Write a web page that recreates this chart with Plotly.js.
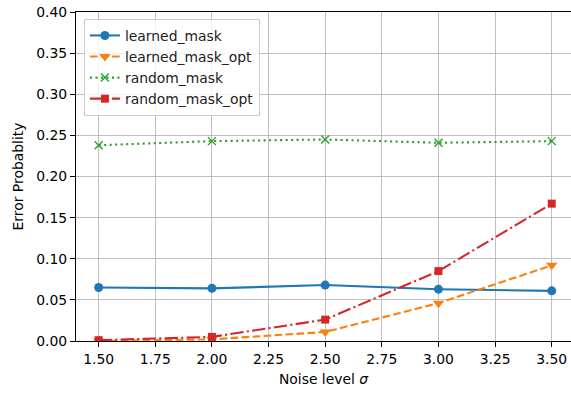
<!DOCTYPE html>
<html>
<head>
<meta charset="utf-8">
<script src="https://cdn.plot.ly/plotly-3.0.1.min.js"></script>
<style>
  html, body { margin: 0; padding: 0; background: #fff; }
  #chart { width: 571px; height: 394px; }
</style>
</head>
<body>
<div id="chart"></div>
<script>
// Noise levels (sigma) on the x axis
const noiseLevels = [1.5, 2.0, 2.5, 3.0, 3.5];

// Error probability per method
const learnedMask    = [0.065, 0.064, 0.068, 0.063, 0.061];
const learnedMaskOpt = [0.000, 0.002, 0.011, 0.046, 0.092];
const randomMask     = [0.238, 0.243, 0.245, 0.241, 0.243];
const randomMaskOpt  = [0.001, 0.005, 0.026, 0.085, 0.167];

const seriesNames = ['learned_mask', 'learned_mask_opt', 'random_mask', 'random_mask_opt'];

const FONT = 'DejaVu Sans, sans-serif';

function series(name, y, color, dash, symbol, size) {
  return {
    x: noiseLevels, y: y, name: name,
    type: 'scatter', mode: 'lines+markers',
    line: { color: color, width: 2.1, dash: dash },
    marker: { color: color, symbol: symbol, size: size,
              line: { color: color, width: symbol === 'x-thin' ? 1.4 : 0 } }
  };
}

const traces = [
  series(seriesNames[0], learnedMask,    '#1f77b4', 'solid',                        'circle',        9),
  series(seriesNames[1], learnedMaskOpt, '#ff7f0e', '7.7px,3.3px',                  'triangle-down', 10),
  series(seriesNames[2], randomMask,     '#2ca02c', '2.1px,3.4px',                  'x-thin',        8),
  series(seriesNames[3], randomMaskOpt,  '#d62728', '13.3px,3.3px,2.1px,3.3px',     'square',        8)
];

const layout = {
  width: 571, height: 394,
  margin: { l: 76, r: 0, t: 12, b: 53 },
  paper_bgcolor: '#fff', plot_bgcolor: '#fff',
  font: { family: FONT, size: 13.9, color: '#000' },
  showlegend: true,
  legend: {
    x: 0.016, y: 0.979, xanchor: 'left', yanchor: 'top',
    bgcolor: 'rgba(255,255,255,0.8)', bordercolor: '#cccccc', borderwidth: 1,
    font: { family: FONT, size: 13.9, color: '#222' },
    tracegroupgap: 0
  },
  xaxis: {
    range: [1.4, 3.585],
    tick0: 1.5, dtick: 0.25, tickformat: '.2f',
    showgrid: true, gridcolor: '#b0b0b0', gridwidth: 0.8,
    zeroline: false,
    showline: true, linecolor: '#000', linewidth: 1, mirror: true,
    ticks: 'outside', ticklen: 5, tickcolor: '#000', tickwidth: 1,
    title: { text: 'Noise level <i>σ</i>', font: { family: FONT, size: 13.9 }, standoff: 8 }
  },
  yaxis: {
    range: [0, 0.4],
    dtick: 0.05, tickformat: '.2f',
    showgrid: true, gridcolor: '#b0b0b0', gridwidth: 0.8,
    zeroline: false,
    showline: true, linecolor: '#000', linewidth: 1, mirror: false,
    ticks: 'outside', ticklen: 5, tickcolor: '#000', tickwidth: 1,
    title: { text: 'Error Probablity', font: { family: FONT, size: 13.9 }, standoff: 9 }
  }
};

Plotly.newPlot('chart', traces, layout, { staticPlot: true, displayModeBar: false });
</script>
</body>
</html>
